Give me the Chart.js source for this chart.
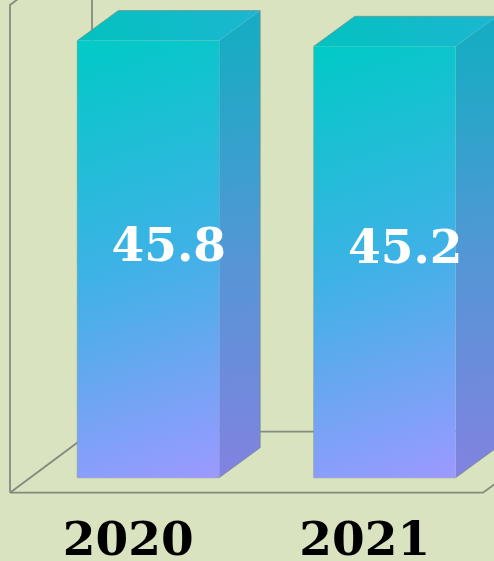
<!DOCTYPE html>
<html><head><meta charset="utf-8">
<script src="https://cdn.jsdelivr.net/npm/chart.js@4.4.0/dist/chart.umd.min.js"></script>
<style>html,body{margin:0;padding:0;background:#d9e3bf;overflow:hidden}#wrap{width:494px;height:561px;position:relative}</style>
</head><body><div id="wrap"><canvas id="c"></canvas></div>
<script>
const categories = ['2020', '2021'];
const values = [45.8, 45.2];
const valueLabels = ['45.8', '45.2'];
const yMin = 0;
const yMax = 51.1;

const BAR_OFF = {dx: 20, dy: -15};
const DEPTH = {dx: 41, dy: -30};
const FLOOR = {dx: 82, dy: -61};

function frontGradient(ctx, l, t, r, b) {
  const g = ctx.createLinearGradient(l, t, r, b);
  g.addColorStop(0, '#00cac6');
  g.addColorStop(0.5, '#3eb2e6');
  g.addColorStop(1, '#9c99ff');
  return g;
}

const threeD = {
  id: 'threeD',
  beforeDatasetsDraw(chart) {
    const {ctx, chartArea: a} = chart;
    ctx.save();
    ctx.strokeStyle = '#858a80';
    ctx.lineWidth = 1.8;
    ctx.beginPath();
    ctx.moveTo(a.left, a.bottom); ctx.lineTo(a.left, a.top);
    ctx.lineTo(a.left + FLOOR.dx, a.top + FLOOR.dy);
    ctx.moveTo(a.left + FLOOR.dx, a.top + FLOOR.dy);
    ctx.lineTo(a.left + FLOOR.dx, a.bottom + FLOOR.dy);
    ctx.moveTo(a.left, a.bottom); ctx.lineTo(a.right, a.bottom);
    ctx.lineTo(a.right + FLOOR.dx, a.bottom + FLOOR.dy);
    ctx.lineTo(a.left + FLOOR.dx, a.bottom + FLOOR.dy);
    ctx.lineTo(a.left, a.bottom);
    ctx.stroke();
    ctx.restore();

    ctx.save();
    ctx.translate(BAR_OFF.dx, BAR_OFF.dy);
    chart.getDatasetMeta(0).data.forEach(el => {
      const {x, y, base, width} = el.getProps(['x', 'y', 'base', 'width'], true);
      const l = x - width / 2, r = x + width / 2;
      const sg = ctx.createLinearGradient(r, y, r + DEPTH.dx, base);
      sg.addColorStop(0, '#18acc4');
      sg.addColorStop(0.5, '#5596d6');
      sg.addColorStop(1, '#8282e0');
      ctx.beginPath();
      ctx.moveTo(r, y); ctx.lineTo(r + DEPTH.dx, y + DEPTH.dy);
      ctx.lineTo(r + DEPTH.dx, base + DEPTH.dy); ctx.lineTo(r, base);
      ctx.closePath();
      ctx.fillStyle = sg; ctx.fill();
      const tg = ctx.createLinearGradient(l, y, r + DEPTH.dx, y + DEPTH.dy);
      tg.addColorStop(0, '#02c2bf');
      tg.addColorStop(1, '#1cb6d0');
      ctx.beginPath();
      ctx.moveTo(l, y); ctx.lineTo(l + DEPTH.dx, y + DEPTH.dy);
      ctx.lineTo(r + DEPTH.dx, y + DEPTH.dy); ctx.lineTo(r, y);
      ctx.closePath();
      ctx.fillStyle = tg; ctx.fill();
      ctx.strokeStyle = 'rgba(120,140,130,0.7)';
      ctx.lineWidth = 1;
      ctx.beginPath();
      ctx.moveTo(l, base); ctx.lineTo(l, y); ctx.lineTo(l + DEPTH.dx, y + DEPTH.dy);
      ctx.lineTo(r + DEPTH.dx, y + DEPTH.dy); ctx.lineTo(r + DEPTH.dx, base + DEPTH.dy);
      ctx.lineTo(r, base); ctx.lineTo(l, base);
      ctx.stroke();
    });
  },
  afterDatasetsDraw(chart) {
    const ctx = chart.ctx;
    ctx.restore();
    ctx.save();
    const fs = 47;
    ctx.font = 'bold ' + fs + 'px "DejaVu Serif"';
    ctx.fillStyle = '#ffffff';
    ctx.textAlign = 'center';
    ctx.textBaseline = 'alphabetic';
    chart.getDatasetMeta(0).data.forEach((el, i) => {
      const {x, y, base} = el.getProps(['x', 'y', 'base'], true);
      const cx = x + BAR_OFF.dx + DEPTH.dx / 2;
      const cy = ((y + BAR_OFF.dy + DEPTH.dy) + (base + BAR_OFF.dy)) / 2;
      ctx.fillText(valueLabels[i], cx, cy + 0.35 * fs);
    });
    ctx.restore();
  }
};

new Chart(document.getElementById('c'), {
  type: 'bar',
  data: {
    labels: categories,
    datasets: [{
      data: values,
      clip: false,
      categoryPercentage: 1,
      barPercentage: 0.6,
      borderWidth: 0,
      backgroundColor: (context) => {
        const chart = context.chart;
        if (!chart.chartArea || context.type !== 'data') return '#3eb2e6';
        const xs = chart.scales.x, ys = chart.scales.y;
        const cx = xs.getPixelForValue(context.dataIndex);
        const w = (xs.width / categories.length) * 0.6;
        return frontGradient(chart.ctx, cx - w / 2, ys.getPixelForValue(context.raw), cx + w / 2, ys.getPixelForValue(0));
      }
    }]
  },
  options: {
    responsive: true,
    maintainAspectRatio: false,
    animation: false,
    layout: {padding: {left: 10, right: 11, top: 5, bottom: -32}},
    plugins: {legend: {display: false}, tooltip: {enabled: false}},
    scales: {
      x: {
        grid: {display: false, drawTicks: false},
        border: {display: false},
        ticks: {
          color: '#000000',
          padding: 29,
          font: {family: '"DejaVu Serif"', weight: 'bold', size: 47, lineHeight: 0.9}
        }
      },
      y: {display: false, min: yMin, max: yMax}
    }
  },
  plugins: [threeD]
});
</script>
</body></html>
